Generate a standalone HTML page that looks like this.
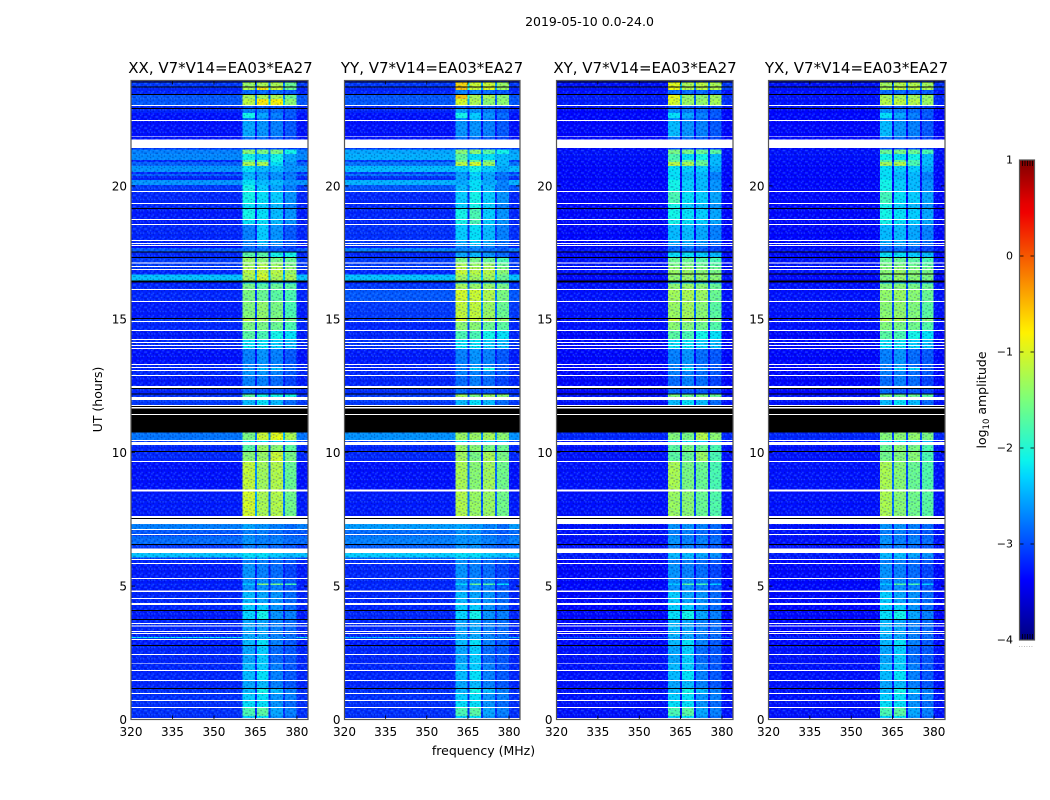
<!DOCTYPE html>
<html lang="en">
<head>
<meta charset="utf-8">
<title>2019-05-10 amplitude waterfall</title>
<style>
html,body{margin:0;padding:0;background:#fff;width:1050px;height:800px;overflow:hidden}
svg{display:block}
text{font-family:"DejaVu Sans","Liberation Sans",sans-serif;fill:#000}
</style>
</head>
<body>
<svg id="chart" xmlns="http://www.w3.org/2000/svg" width="1050" height="800" viewBox="0 0 1050 800">
<defs>
<linearGradient id="jet" x1="0" y1="1" x2="0" y2="0">
<stop offset="0" stop-color="#00007f"/><stop offset=".11" stop-color="#0000f1"/><stop offset=".125" stop-color="#0000ff"/><stop offset=".34" stop-color="#00d5ff"/><stop offset=".375" stop-color="#0cf4eb"/><stop offset=".5" stop-color="#7bff7b"/><stop offset=".64" stop-color="#fff100"/><stop offset=".66" stop-color="#ffe000"/><stop offset=".89" stop-color="#f00000"/><stop offset=".91" stop-color="#e40000"/><stop offset="1" stop-color="#7f0000"/>
</linearGradient>
<pattern id="speckle" patternUnits="userSpaceOnUse" width="11.2" height="11.2">
<g fill="#00006e" fill-opacity=".3">
<rect x="0" y="1.4" width="1.4" height="1.4"/><rect x="4.2" y="0" width="1.4" height="1.4"/><rect x="8.4" y="2.8" width="1.4" height="1.4"/><rect x="2.8" y="4.2" width="1.4" height="1.4"/><rect x="7" y="5.6" width="1.4" height="1.4"/><rect x="0" y="7" width="1.4" height="1.4"/><rect x="9.8" y="7" width="1.4" height="1.4"/><rect x="4.2" y="8.4" width="1.4" height="1.4"/><rect x="1.4" y="9.8" width="1.4" height="1.4"/><rect x="7" y="9.8" width="1.4" height="1.4"/>
</g>
<g fill="#4aa8ff" fill-opacity=".34">
<rect x="2.8" y="1.4" width="1.4" height="1.4"/><rect x="7" y="1.4" width="1.4" height="1.4"/><rect x="0" y="4.2" width="1.4" height="1.4"/><rect x="5.6" y="2.8" width="1.4" height="1.4"/><rect x="9.8" y="4.2" width="1.4" height="1.4"/><rect x="4.2" y="5.6" width="1.4" height="1.4"/><rect x="1.4" y="7" width="1.4" height="1.4"/><rect x="8.4" y="8.4" width="1.4" height="1.4"/><rect x="5.6" y="8.4" width="1.4" height="1.4"/><rect x="2.8" y="8.4" width="1.4" height="1.4"/>
</g>
</pattern>
</defs>

<text x="589.5" y="26" font-size="12.5" text-anchor="middle">2019-05-10 0.0-24.0</text>
<text x="220.5" y="73" font-size="15" text-anchor="middle">XX, V7*V14=EA03*EA27</text>
<text x="432" y="73" font-size="15" text-anchor="middle">YY, V7*V14=EA03*EA27</text>
<text x="645" y="73" font-size="15" text-anchor="middle">XY, V7*V14=EA03*EA27</text>
<text x="856.5" y="73" font-size="15" text-anchor="middle">YX, V7*V14=EA03*EA27</text>
<text x="483.5" y="755" font-size="12.5" text-anchor="middle">frequency (MHz)</text>
<text transform="translate(102,399.5) rotate(-90)" font-size="12.5" text-anchor="middle">UT (hours)</text>
<text transform="translate(986,400) rotate(-90)" font-size="12.5" text-anchor="middle">log<tspan font-size="8.5" dy="3">10</tspan><tspan dy="-3"> amplitude</tspan></text>
<g id="panels"></g>
<g id="colorbar"></g>
<text x="1026" y="647" font-size="6" text-anchor="middle" style="fill:#777;letter-spacing:.6px">......</text>
</svg>

<script>
const xTicks = [320, 335, 350, 365, 380];
const yTicks = [0, 5, 10, 15, 20];
const colorTicks = [-4, -3, -2, -1, 0, 1];
const freqEdges = [320, 360.4, 364.8, 365.5, 369.8, 370.5, 374.9, 375.6, 379.9, 384];
const columnBand = [0, 1, 0, 2, 0, 3, 0, 4, 0];

// time rows: start hour, D = data, W = flagged (white), K = zero amplitude (black)
const timeRows = [
[23.95,'D'],[23.91,'K'],[23.87,'D'],[23.72,'K'],[23.69,'D'],[23.59,'D'],[23.44,'K'],[23.41,'D'],[23.26,'D'],[23.03,'W'],
[22.99,'D'],[22.92,'K'],[22.88,'D'],[22.73,'D'],[22.54,'D'],[22.47,'W'],[22.43,'D'],[21.86,'W'],[21.83,'D'],[21.73,'W'],
[21.42,'D'],[21.37,'D'],[21.20,'D'],[20.97,'D'],[20.90,'D'],[20.75,'D'],[20.52,'D'],[20.45,'D'],[20.37,'D'],[20.22,'D'],
[20.04,'D'],[19.81,'W'],[19.77,'D'],[19.36,'W'],[19.32,'D'],[19.17,'K'],[19.13,'D'],[18.76,'W'],[18.72,'D'],[18.57,'W'],
[18.53,'D'],[17.97,'W'],[17.93,'D'],[17.86,'W'],[17.82,'D'],[17.78,'W'],[17.74,'D'],[17.67,'D'],[17.54,'K'],[17.50,'D'],
[17.33,'K'],[17.29,'D'],[17.13,'W'],[17.10,'D'],[17.00,'W'],[16.96,'D'],[16.89,'W'],[16.85,'D'],[16.72,'D'],[16.68,'D'],
[16.46,'K'],[16.38,'D'],[16.35,'D'],[16.14,'W'],[16.10,'D'],[15.69,'W'],[15.65,'D'],[15.05,'K'],[15.01,'D'],[14.94,'W'],
[14.90,'D'],[14.60,'W'],[14.56,'D'],[14.26,'W'],[14.22,'D'],[14.15,'W'],[14.11,'D'],[14.04,'W'],[14.00,'D'],[13.92,'W'],
[13.89,'D'],[13.32,'W'],[13.28,'D'],[13.21,'W'],[13.17,'D'],[13.10,'W'],[13.06,'D'],[12.91,'W'],[12.87,'D'],[12.50,'W'],
[12.42,'K'],[12.38,'D'],[12.21,'K'],[12.18,'D'],[12.09,'W'],[11.98,'D'],[11.79,'W'],[11.75,'K'],[11.72,'W'],[11.66,'K'],
[11.45,'W'],[11.42,'K'],[10.76,'D'],[10.48,'W'],[10.44,'D'],[10.40,'W'],[10.29,'D'],[10.06,'K'],[10.03,'D'],[9.69,'W'],
[9.65,'D'],[8.62,'W'],[8.54,'D'],[7.62,'W'],[7.55,'K'],[7.51,'W'],[7.33,'D'],[7.14,'W'],[7.11,'D'],[6.96,'W'],
[6.92,'D'],[6.88,'D'],[6.58,'K'],[6.54,'D'],[6.41,'W'],[6.24,'D'],[6.07,'D'],[6.02,'W'],[5.98,'D'],[5.87,'W'],
[5.83,'D'],[5.30,'W'],[5.27,'D'],[5.10,'D'],[5.04,'D'],[4.84,'W'],[4.78,'D'],[4.55,'W'],[4.52,'D'],[4.37,'W'],
[4.30,'D'],[4.10,'K'],[4.07,'D'],[3.76,'K'],[3.73,'D'],[3.61,'W'],[3.58,'D'],[3.52,'W'],[3.48,'D'],[3.31,'W'],
[3.28,'D'],[3.24,'W'],[3.20,'D'],[3.09,'D'],[3.06,'D'],[3.02,'W'],[2.98,'D'],[2.79,'K'],[2.75,'D'],[2.45,'W'],
[2.42,'D'],[2.12,'W'],[2.09,'D'],[1.86,'W'],[1.82,'D'],[1.48,'W'],[1.45,'D'],[1.18,'K'],[1.15,'D'],[1.00,'W'],
[0.96,'D'],[0.73,'W'],[0.69,'D'],[0.47,'W'],[0.43,'D'],[0.13,'D'],[0.06,'W'],[0.02,'D']
];
const K = [-9, -9, -9, -9, -9];

// log10 amplitude per data row: [background, band1, band2, band3, band4]
const xxValues = [
[-3.2,-2.9,-2.9,-2.9,-2.9],[-3,-1.3,-1.2,-1.2,-1.6],[-3.1,-1.2,-.7,-1,-1.6],[-3.1,-2.6,-2.6,-2.6,-2.7],[-2.95,-1.2,-1.2,-1.2,-1.6],
[-2.95,-1.1,-.7,-.75,-1.4],[-3.1,-2.7,-2.7,-2.7,-2.8],[-3.1,-2.5,-2.5,-2.6,-2.7],[-3.2,-1.9,-2.3,-2.5,-2.7],[-3.2,-2.5,-2.5,-2.6,-2.8],
[-3.2,-2.3,-2.4,-2.5,-2.7],[-3.2,-2.6,-2.6,-2.7,-2.8],[-3,-2.8,-2.8,-2.8,-2.9],[-2.75,-1.4,-1.5,-1.5,-1.9],[-2.7,-1.9,-2.1,-1.9,-2.3],
[-3.1,-1.7,-1.8,-1.9,-2.3],[-2.9,-1.2,-1.2,-2,-2.4],[-2.65,-2,-2.2,-2.2,-2.4],[-3.1,-2.3,-2.4,-2.4,-2.6],[-2.9,-2.2,-2.3,-2.4,-2.5],
[-3.1,-2.2,-2.3,-2.4,-2.5],[-2.65,-2,-2.2,-2.2,-2.4],[-3,-1.9,-2.1,-2.3,-2.5],[-3.1,-1.9,-2,-2.1,-2.4],[-3.1,-2,-2.1,-2.2,-2.5],
[-3.15,-1.9,-2,-2.2,-2.4],[-3.15,-2,-2,-2.2,-2.4],[-3.1,-2.5,-2.1,-2.4,-2.7],[-3.1,-2.5,-2.2,-2.4,-2.7],[-3.1,-2.5,-2.2,-2.4,-2.7],
[-3.2,-2.6,-2.5,-2.6,-2.8],[-2.95,-2.6,-2.6,-2.7,-2.8],[-3.1,-1.7,-1.7,-1.9,-1.9],[-3,-1.3,-1.4,-1.5,-1.6],[-3,-1.3,-1.2,-1.3,-1.5],
[-3,-1.2,-1.1,-1.2,-1.4],[-3.1,-1.1,-1.05,-1.1,-1.3],[-3.1,-1.1,-1.05,-1.1,-1.3],[-2.4,-1.2,-.95,-1.2,-1.2],[-3.2,-2.2,-2.2,-2.2,-2.3],
[-3.1,-1.5,-1.7,-1.6,-1.7],[-3.1,-1.5,-1.6,-1.7,-1.8],[-3.15,-1.45,-1.35,-1.5,-1.8],[-3,-1.1,-1.2,-1.3,-1.5],[-3.1,-1.5,-1.5,-1.6,-1.8],
[-3.15,-1.7,-1.8,-1.9,-2],[-3.1,-2,-2,-2.1,-2.2],[-3.1,-2,-2,-2.1,-2.2],[-3.1,-2,-2,-2.1,-2.2],[-3.2,-2.5,-2.4,-2.5,-2.7],
[-3.1,-2.5,-2.4,-2.5,-2.7],[-3.1,-2.4,-2.2,-2.2,-2.6],[-3.1,-2.4,-2.4,-2.5,-2.7],[-3.15,-2.5,-2.5,-2.6,-2.8],[-3.1,-2.6,-2.7,-2.7,-2.8],
[-3.05,-1.7,-1.9,-1.9,-1.9],[-3,-2.2,-2,-2.2,-2.6],[-2.8,-1.5,-1,-.85,-1.2],[-3,-2,-2,-2.1,-2.2],[-3.1,-1.7,-1.3,-1.4,-1.7],
[-3.1,-1.4,-1.3,-1,-1.5],[-3.2,-1.05,-1.25,-1.15,-1.6],[-3.15,-.95,-1.2,-1.15,-1.55],[-2.75,-2.3,-2.4,-2.5,-2.6],[-2.95,-2.5,-2.5,-2.6,-2.7],
[-3,-2.5,-2.5,-2.6,-2.7],[-2.85,-2.4,-2.5,-2.5,-2.6],[-3,-2.5,-2.5,-2.6,-2.7],[-2.4,-2,-2,-2.1,-2.2],[-3,-2.3,-2.3,-2.5,-2.6],
[-3.1,-2.5,-2.5,-2.6,-2.7],[-3.15,-2.4,-2.5,-2.6,-2.8],[-3.15,-2.4,-2.4,-2.5,-2.7],[-3.1,-2.1,-1.4,-1.5,-1.8],[-3.15,-2.4,-2.4,-2.5,-2.7],
[-3.1,-2.2,-2.3,-2.4,-2.6],[-3.1,-2.2,-2.3,-2.4,-2.6],[-3.1,-2.1,-2.1,-2.4,-2.6],[-3.15,-2.05,-1.9,-2.4,-2.5],[-3.1,-2.3,-2.3,-2.5,-2.6],
[-3.1,-2.3,-2.3,-2.5,-2.6],[-3.1,-2.3,-2.3,-2.5,-2.6],[-3.1,-2.3,-2.3,-2.5,-2.6],[-3.1,-2.3,-2.3,-2.5,-2.6],[-2.2,-2.2,-2.2,-2.4,-2.5],
[-3,-2.3,-2.3,-2.5,-2.6],[-3.15,-2.2,-2,-2.5,-2.7],[-3.1,-2.3,-2.1,-2.6,-2.7],[-3.1,-2.3,-2.1,-2.6,-2.7],[-3.1,-2.2,-2.1,-2.5,-2.7],
[-3.1,-2.2,-2,-2.5,-2.7],[-3.1,-2.3,-2.2,-2.5,-2.7],[-3.05,-2.2,-1.9,-2.2,-2.5],[-3.05,-2.1,-2,-2.4,-2.5],[-3.05,-2,-2,-2.4,-2.6],
[-3.05,-1.8,-1.7,-2.3,-2.5],[-3.05,-2.1,-2,-2.4,-2.6],[-3,-2.4,-2.4,-2.6,-2.7]
];
const yyValues = [
[-3.2,-2.9,-2.9,-2.9,-2.9],[-3,-.6,-1,-1,-1.3],[-3.1,-.5,-1,-.9,-1.3],[-3.1,-2.5,-2.5,-2.6,-2.7],[-2.95,-.5,-1.2,-1.2,-1.4],
[-2.95,-.95,-1.2,-1.4,-1.4],[-3.1,-2.7,-2.7,-2.7,-2.8],[-3.1,-2.3,-2.4,-2.5,-2.7],[-3.2,-1.9,-2.1,-2.4,-2.6],[-3.2,-2.4,-2.2,-2.5,-2.7],
[-3.2,-2.4,-2.4,-2.5,-2.7],[-3.2,-2.6,-2.6,-2.7,-2.8],[-3,-2.8,-2.8,-2.8,-2.9],[-2.55,-1.4,-1.4,-1.7,-1.9],[-2.5,-1.7,-2,-2,-2.2],
[-3,-1.5,-1.6,-1.6,-2.2],[-2.8,-1.1,-.95,-1.3,-2.2],[-2.45,-2.1,-1.9,-2.1,-2.3],[-3,-2.4,-2.1,-2.3,-2.6],[-2.8,-2.3,-2,-2.3,-2.5],
[-3.05,-2.3,-2.1,-2.3,-2.6],[-2.5,-2.3,-2,-2.3,-2.5],[-2.95,-2.2,-2,-2.2,-2.5],[-3.1,-2.1,-1.9,-2.1,-2.4],[-3.1,-2.1,-1.9,-2.1,-2.5],
[-3.1,-1.9,-1.8,-2.1,-2.4],[-3.1,-1.9,-1.8,-2.1,-2.4],[-3.05,-2.1,-2,-2.2,-2.5],[-3,-2.3,-2.1,-2.3,-2.6],[-3,-2.3,-2.1,-2.3,-2.6],
[-3.1,-2.5,-2.4,-2.5,-2.7],[-2.75,-2.5,-2.5,-2.6,-2.7],[-3.1,-2.3,-2.2,-2.4,-2.6],[-3,-1.5,-1.5,-1.6,-1.8],[-3,-1.2,-1.3,-1.3,-1.6],
[-3,-1.1,-1.2,-1.2,-1.5],[-3.1,-1,-1.1,-1.1,-1.4],[-3.1,-1,-1.1,-1.1,-1.4],[-2.4,-1.25,-1.25,-1.25,-1.6],[-3.2,-2.2,-2.2,-2.2,-2.3],
[-3,-1.2,-1.3,-1.3,-1.5],[-2.95,-.95,-1,-1.15,-1.5],[-3,-1.05,-1.05,-1.3,-1.6],[-3,-.85,-1,-1.1,-1.3],[-3.1,-1.4,-1.4,-1.6,-1.7],
[-3.1,-1.8,-1.8,-1.9,-2],[-3.05,-2,-2,-2.1,-2.2],[-3.05,-2,-2,-2.1,-2.2],[-3.05,-2,-2,-2.1,-2.2],[-3.15,-2.5,-2.4,-2.5,-2.7],
[-3.1,-2.5,-2.4,-2.5,-2.7],[-3.1,-2.5,-2.1,-1.9,-2.6],[-3.1,-2.5,-2.5,-2.5,-2.7],[-3.1,-2.6,-2.5,-2.6,-2.8],[-3.05,-2.6,-2.7,-2.7,-2.8],
[-3,-1.25,-1.5,-1.3,-1.4],[-3,-2.2,-2,-2.2,-2.6],[-2.65,-1.3,-1.3,-1.25,-1.4],[-3,-2,-2,-2.1,-2.2],[-3.1,-1.3,-1.4,-1.5,-1.6],
[-3.1,-1.25,-1.5,-1.2,-1.5],[-3.2,-1.2,-1.4,-1.25,-1.55],[-3.15,-1.15,-1.3,-1.3,-1.55],[-2.6,-2.3,-2.4,-2.5,-2.6],[-2.85,-2.4,-2.4,-2.6,-2.7],
[-2.9,-2.4,-2.4,-2.6,-2.7],[-2.75,-2.4,-2.4,-2.5,-2.6],[-2.9,-2.4,-2.4,-2.6,-2.7],[-2.35,-2,-2,-2.1,-2.2],[-2.9,-2.3,-2.3,-2.5,-2.6],
[-3.05,-2.4,-2.5,-2.6,-2.7],[-3.1,-2.4,-2.5,-2.6,-2.8],[-3.1,-2.4,-2.4,-2.5,-2.7],[-3.1,-2,-1.6,-1.7,-2],[-3.1,-2.4,-2.4,-2.5,-2.7],
[-3.1,-2.2,-2.3,-2.4,-2.6],[-3.1,-2.2,-2.3,-2.4,-2.6],[-3.1,-2.1,-2.1,-2.4,-2.6],[-3.1,-2.05,-1.9,-2.4,-2.5],[-3.1,-2.3,-2.3,-2.5,-2.6],
[-3.1,-2.3,-2.3,-2.5,-2.6],[-3.1,-2.3,-2.3,-2.5,-2.6],[-3.1,-2.3,-2.3,-2.5,-2.6],[-3.1,-2.3,-2.3,-2.5,-2.6],[-2.4,-2.2,-2.2,-2.4,-2.5],
[-3,-2.3,-2.3,-2.5,-2.6],[-3.15,-2.2,-2,-2.5,-2.7],[-3.1,-2.3,-2.1,-2.6,-2.7],[-3.1,-2.3,-2.1,-2.6,-2.7],[-3.1,-2.2,-2.1,-2.5,-2.7],
[-3.1,-2.2,-2,-2.5,-2.7],[-3.1,-2.3,-2.2,-2.5,-2.7],[-3.05,-2.2,-1.9,-2.2,-2.5],[-3.05,-2.1,-2,-2.4,-2.5],[-3.05,-2,-2,-2.4,-2.6],
[-3.05,-1.8,-1.7,-2.3,-2.5],[-3.05,-2.1,-2,-2.4,-2.6],[-3,-2.4,-2.4,-2.6,-2.7]
];
const xyValues = [
[-3.25,-2.9,-2.9,-2.9,-2.9],[-3.2,-.85,-1.2,-1.1,-1.2],[-3.2,-.8,-1.15,-1.1,-1.15],[-3.2,-2.6,-2.6,-2.6,-2.7],[-3.15,-.8,-1.3,-1.4,-1.25],
[-3.15,-.95,-1.3,-1.35,-1.25],[-3.2,-2.7,-2.7,-2.7,-2.8],[-3.25,-2.4,-2.5,-2.6,-2.7],[-3.25,-2,-2.3,-2.5,-2.7],[-3.25,-2.4,-2.5,-2.6,-2.8],
[-3.25,-2.2,-2.4,-2.5,-2.7],[-3.25,-2.6,-2.6,-2.7,-2.8],[-3.25,-2.8,-2.8,-2.8,-2.9],[-3.2,-1.5,-1.5,-1.6,-1.7],[-3.2,-1.8,-2,-1.9,-2.2],
[-3.25,-1.6,-1.6,-1.7,-2.2],[-3.25,-1.1,-1.2,-1.6,-2.2],[-3.25,-2,-2.1,-2.1,-2.3],[-3.25,-2,-2.2,-2.2,-2.5],[-3.25,-2,-2.2,-2.2,-2.5],
[-3.25,-2,-2.2,-2.2,-2.5],[-3.25,-1.9,-2.1,-2.2,-2.4],[-3.25,-1.9,-2.1,-2.2,-2.4],[-3.25,-1.8,-2,-2.1,-2.3],[-3.25,-1.9,-2.1,-2.2,-2.4],
[-3.25,-1.9,-2,-2.1,-2.3],[-3.25,-1.9,-2,-2.1,-2.3],[-3.25,-2.2,-2.2,-2.3,-2.5],[-3.25,-2.3,-2.3,-2.4,-2.6],[-3.25,-2.3,-2.3,-2.4,-2.6],
[-3.25,-2.6,-2.5,-2.6,-2.8],[-3.2,-2.6,-2.6,-2.7,-2.8],[-3.25,-2,-2,-2.1,-2.2],[-3.2,-1.6,-1.6,-1.7,-1.8],[-3.2,-1.5,-1.5,-1.6,-1.7],
[-3.2,-1.4,-1.4,-1.5,-1.6],[-3.2,-1.3,-1.3,-1.4,-1.5],K,[-3.25,-1.35,-1.3,-1.35,-1.4],[-3.25,-2.2,-2.2,-2.2,-2.3],
[-3.2,-1.35,-1.3,-1.4,-1.6],[-3.2,-1.25,-1.2,-1.3,-1.6],[-3.2,-1.3,-1.25,-1.4,-1.7],[-3.2,-1,-1.1,-1.25,-1.4],[-3.2,-1.4,-1.45,-1.55,-1.75],
[-3.25,-1.7,-1.8,-1.9,-2],[-3.25,-2,-2,-2.1,-2.2],[-3.25,-2,-2,-2.1,-2.2],[-3.25,-2,-2,-2.1,-2.2],[-3.25,-2.5,-2.4,-2.6,-2.7],
[-3.25,-2.5,-2.4,-2.6,-2.7],[-3.25,-2.5,-2,-2.4,-2.7],[-3.25,-2.5,-2.5,-2.6,-2.7],[-3.25,-2.6,-2.5,-2.6,-2.8],[-3.25,-2.6,-2.7,-2.7,-2.8],
[-3.2,-1.45,-1.6,-1.5,-1.6],[-3.2,-2.2,-2,-2.2,-2.6],[-3.1,-1.45,-1.5,-1.15,-1.4],[-3.2,-2,-2,-2.1,-2.2],[-3.2,-1.7,-1.5,-1.6,-1.8],
[-3.2,-1.7,-1.6,-1.3,-1.8],[-3.2,-1.2,-1.5,-1.6,-1.8],[-3.2,-1.3,-1.4,-1.6,-1.75],[-3.2,-2.4,-2.4,-2.5,-2.6],[-3.2,-2.5,-2.5,-2.6,-2.7],
[-3.2,-2.5,-2.5,-2.6,-2.7],[-3.2,-2.4,-2.5,-2.5,-2.6],[-3.2,-2.5,-2.5,-2.6,-2.7],[-3.15,-2.2,-2.2,-2.3,-2.4],[-3.2,-2.3,-2.3,-2.5,-2.6],
[-3.25,-2.5,-2.5,-2.6,-2.7],[-3.25,-2.4,-2.5,-2.6,-2.8],[-3.25,-2.4,-2.4,-2.5,-2.7],[-3.25,-2.1,-1.7,-1.8,-2.1],[-3.25,-2.4,-2.4,-2.5,-2.7],
[-3.25,-2.1,-2.3,-2.4,-2.6],[-3.25,-2.1,-2.3,-2.4,-2.6],[-3.25,-2.1,-2.1,-2.4,-2.6],[-3.25,-2,-1.9,-2.3,-2.5],[-3.25,-2.2,-2.3,-2.5,-2.6],
[-3.25,-2.2,-2.3,-2.5,-2.6],[-3.25,-2.2,-2.3,-2.5,-2.6],[-3.25,-2.2,-2.3,-2.5,-2.6],[-3.25,-2.2,-2.3,-2.5,-2.6],[-2.9,-2.3,-2.3,-2.5,-2.6],
[-3.2,-2.3,-2.3,-2.5,-2.6],[-3.25,-2.2,-2,-2.5,-2.7],[-3.2,-2.3,-2.1,-2.6,-2.7],[-3.2,-2.3,-2.1,-2.6,-2.7],[-3.2,-2.2,-2.1,-2.5,-2.7],
[-3.2,-2.2,-2,-2.5,-2.7],[-3.2,-2.3,-2.2,-2.5,-2.7],[-3.2,-2.2,-1.9,-2.2,-2.5],[-3.2,-2.1,-2,-2.4,-2.5],[-3.2,-2,-2,-2.4,-2.6],
[-3.2,-1.8,-1.7,-2.3,-2.5],[-3.2,-2.1,-2,-2.4,-2.6],[-3.2,-2.4,-2.4,-2.6,-2.7]
];
const yxValues = [
[-3.25,-2.9,-2.9,-2.9,-2.9],[-3.2,-1.25,-1.15,-1.15,-1.25],[-3.2,-1.2,-1.05,-1.1,-1.2],[-3.2,-2.6,-2.6,-2.6,-2.7],[-3.2,-1.2,-1.2,-1.25,-1.3],
[-3.2,-1.15,-1.1,-1.15,-1.3],[-3.2,-2.7,-2.7,-2.7,-2.8],[-3.25,-2.4,-2.5,-2.6,-2.7],[-3.25,-2,-2.3,-2.5,-2.7],[-3.25,-2.4,-2.5,-2.6,-2.8],
[-3.25,-2.2,-2.4,-2.5,-2.7],[-3.25,-2.6,-2.6,-2.7,-2.8],[-3.25,-2.8,-2.8,-2.8,-2.9],[-3.2,-1.6,-1.5,-1.6,-1.8],[-3.2,-1.9,-2,-1.9,-2.2],
[-3.25,-1.7,-1.6,-1.8,-2.2],[-3.25,-1.25,-1.15,-1.8,-2.2],[-3.25,-2,-2.1,-2.1,-2.3],[-3.25,-2,-2.2,-2.2,-2.5],[-3.25,-2,-2.2,-2.2,-2.5],
[-3.25,-2,-2.2,-2.2,-2.5],[-3.25,-1.9,-2.1,-2.2,-2.4],[-3.25,-1.9,-2.1,-2.2,-2.4],[-3.25,-1.85,-2,-2.1,-2.3],[-3.25,-1.9,-2.1,-2.2,-2.4],
[-3.25,-1.9,-2,-2.1,-2.3],[-3.25,-1.9,-2,-2.1,-2.3],[-3.25,-2.2,-2.2,-2.3,-2.5],[-3.25,-2.3,-2.3,-2.4,-2.6],[-3.25,-2.3,-2.3,-2.4,-2.6],
[-3.25,-2.6,-2.5,-2.6,-2.8],[-3.2,-2.6,-2.6,-2.7,-2.8],[-3.25,-2,-2,-2.1,-2.2],[-3.2,-1.6,-1.6,-1.7,-1.8],[-3.2,-1.5,-1.5,-1.6,-1.7],
[-3.2,-1.45,-1.4,-1.5,-1.6],[-3.2,-1.4,-1.3,-1.4,-1.5],K,[-3.25,-1.45,-1.3,-1.4,-1.5],[-3.25,-2.2,-2.2,-2.2,-2.3],
[-3.2,-1.45,-1.4,-1.5,-1.6],[-3.2,-1.35,-1.3,-1.4,-1.6],[-3.2,-1.4,-1.35,-1.45,-1.7],[-3.2,-1.1,-1.15,-1.3,-1.4],[-3.2,-1.45,-1.5,-1.55,-1.75],
[-3.25,-1.7,-1.8,-1.9,-2],[-3.25,-2,-2,-2.1,-2.2],[-3.25,-2,-2,-2.1,-2.2],[-3.25,-2,-2,-2.1,-2.2],[-3.25,-2.5,-2.4,-2.6,-2.7],
[-3.25,-2.5,-2.4,-2.6,-2.7],[-3.25,-2.5,-2.1,-2.1,-2.7],[-3.25,-2.5,-2.5,-2.6,-2.7],[-3.25,-2.6,-2.5,-2.6,-2.8],[-3.25,-2.6,-2.7,-2.7,-2.8],
[-3.2,-1.5,-1.6,-1.6,-1.7],[-3.2,-2.2,-2,-2.2,-2.6],[-3.1,-1.45,-1.4,-1.35,-1.5],[-3.2,-2,-2,-2.1,-2.2],[-3.2,-1.6,-1.4,-1.5,-1.8],
[-3.2,-1.55,-1.45,-1.4,-1.8],[-3.2,-1.2,-1.4,-1.6,-1.75],[-3.2,-1.2,-1.4,-1.55,-1.7],[-3.2,-2.4,-2.4,-2.5,-2.6],[-3.2,-2.5,-2.5,-2.6,-2.7],
[-3.2,-2.5,-2.5,-2.6,-2.7],[-3.2,-2.4,-2.5,-2.5,-2.6],[-3.2,-2.5,-2.5,-2.6,-2.7],[-3.15,-2.2,-2.2,-2.3,-2.4],[-3.2,-2.3,-2.3,-2.5,-2.6],
[-3.25,-2.5,-2.5,-2.6,-2.7],[-3.25,-2.4,-2.5,-2.6,-2.8],[-3.25,-2.4,-2.4,-2.5,-2.7],[-3.25,-2.1,-1.7,-1.8,-2.1],[-3.25,-2.4,-2.4,-2.5,-2.7],
[-3.25,-2.1,-2.3,-2.4,-2.6],[-3.25,-2.1,-2.3,-2.4,-2.6],[-3.25,-2.1,-2.1,-2.4,-2.6],[-3.25,-2,-1.9,-2.3,-2.5],[-3.25,-2.2,-2.3,-2.5,-2.6],
[-3.25,-2.2,-2.3,-2.5,-2.6],[-3.25,-2.2,-2.3,-2.5,-2.6],[-3.25,-2.2,-2.3,-2.5,-2.6],[-3.25,-2.2,-2.3,-2.5,-2.6],[-3,-2.3,-2.3,-2.5,-2.6],
[-3.2,-2.3,-2.3,-2.5,-2.6],[-3.25,-2.2,-2,-2.5,-2.7],[-3.2,-2.3,-2.1,-2.6,-2.7],[-3.2,-2.3,-2.1,-2.6,-2.7],[-3.2,-2.2,-2.1,-2.5,-2.7],
[-3.2,-2.2,-2,-2.5,-2.7],[-3.2,-2.3,-2.2,-2.5,-2.7],[-3.2,-2.2,-1.9,-2.2,-2.5],[-3.2,-2.1,-2,-2.4,-2.5],[-3.2,-2,-2,-2.4,-2.6],
[-3.2,-1.8,-1.7,-2.3,-2.5],[-3.2,-2.1,-2,-2.4,-2.6],[-3.2,-2.4,-2.4,-2.6,-2.7]
];

const NS = 'http://www.w3.org/2000/svg';
const TOP = 80.5, BOTTOM = 719.5, XMIN = 320, XMAX = 384, HOURS = 23.95;
const panelLayout = [
  { key: 'xx', left: 131, width: 177, values: xxValues },
  { key: 'yy', left: 344.5, width: 175.5, values: yyValues },
  { key: 'xy', left: 556.5, width: 176.5, values: xyValues },
  { key: 'yx', left: 768.5, width: 176.5, values: yxValues }
];

function yScale(h) { return BOTTOM - (h / HOURS) * (BOTTOM - TOP); }
function colorScale(v) { return 640 - (v + 4) / 5 * 480; }
function seg(t, pts) {
  for (let i = 1; i < pts.length; i++) {
    if (t <= pts[i][0]) {
      const a = pts[i - 1], b = pts[i];
      return a[1] + (b[1] - a[1]) * (t - a[0]) / (b[0] - a[0]);
    }
  }
  return pts[pts.length - 1][1];
}
function jet(v) {
  const t = Math.max(0, Math.min(1, (v + 4) / 5));
  const r = seg(t, [[0, 0], [.35, 0], [.66, 1], [.89, 1], [1, .5]]);
  const g = seg(t, [[0, 0], [.125, 0], [.375, 1], [.64, 1], [.91, 0], [1, 0]]);
  const b = seg(t, [[0, .5], [.11, 1], [.34, 1], [.65, 0], [1, 0]]);
  return 'rgb(' + Math.round(r * 255) + ',' + Math.round(g * 255) + ',' + Math.round(b * 255) + ')';
}
// mean tone of the speckled noise reads darker than the row's peak tone
function bgTone(v) { return v <= -3 ? v - .1 : v; }
function bandTone(v) { return v < -1.85 ? v - .25 : v; }
function cellValue(vals, c) {
  const band = columnBand[c];
  if (band > 0) return bandTone(vals[band]);
  const bg = bgTone(vals[0]);
  if (c === 0) return bg;
  const neighbour = vals[columnBand[c - 1]];
  if (c === columnBand.length - 1) return Math.max(bg, neighbour - 1.9);
  return Math.max(bg, neighbour - 1.6);
}
function make(tag, attrs, parent) {
  const e = document.createElementNS(NS, tag);
  for (const k in attrs) e.setAttribute(k, attrs[k]);
  parent.appendChild(e);
  return e;
}

const panelsRoot = document.getElementById('panels');
panelLayout.forEach(function (p) {
  const g = make('g', {}, panelsRoot);
  
  
  const xScale = function (f) { return p.left + (f - XMIN) / (XMAX - XMIN) * p.width; };

  const flagged = [];
  let dataIndex = 0;
  timeRows.forEach(function (row, i) {
    const y0 = yScale(row[0]);
    const y1 = i + 1 < timeRows.length ? yScale(timeRows[i + 1][0]) : BOTTOM;
    if (row[1] !== 'D') { flagged.push([y0, y1, row[1]]); return; }
    const vals = p.values[dataIndex] || K;
    dataIndex++;
    if (vals[0] <= -9) { flagged.push([y0, y1, 'K']); return; }
    columnBand.forEach(function (band, c) {
      const x0 = xScale(freqEdges[c]);
      const x1 = xScale(freqEdges[c + 1]);
      const cell = make('rect', { x: x0, y: y0, width: x1 - x0, height: y1 - y0, fill: jet(cellValue(vals, c)), 'shape-rendering': 'crispEdges' }, g);
      
      
    });
  });

  const tex = make('rect', { x: p.left, y: TOP, width: p.width, height: BOTTOM - TOP, fill: 'url(#speckle)' }, g);
  
  

  flagged.forEach(function (f) {
    const band = make('rect', { x: p.left, y: f[0], width: p.width, height: f[1] - f[0], fill: f[2] === 'W' ? '#fff' : '#000', 'shape-rendering': 'crispEdges' }, g);
    
    
  });

  xTicks.forEach(function (v) {
    const x = xScale(v);
    const t1 = make('line', { x1: x, x2: x, y1: BOTTOM, y2: BOTTOM - 4, stroke: '#000', 'stroke-width': .8 }, g);
    
    
    const t2 = make('line', { x1: x, x2: x, y1: TOP, y2: TOP + 4, stroke: '#000', 'stroke-width': .8 }, g);
    
    
    const lab = make('text', { x: x, y: 736, 'font-size': 12, 'text-anchor': 'middle' }, g);
    lab.textContent = String(v);
    
    
  });
  yTicks.forEach(function (v) {
    const y = yScale(v);
    const t1 = make('line', { x1: p.left, x2: p.left + 4, y1: y, y2: y, stroke: '#000', 'stroke-width': .8 }, g);
    
    
    const t2 = make('line', { x1: p.left + p.width, x2: p.left + p.width - 4, y1: y, y2: y, stroke: '#000', 'stroke-width': .8 }, g);
    
    
    const lab = make('text', { x: p.left - 4, y: y + 4.4, 'font-size': 12, 'text-anchor': 'end' }, g);
    lab.textContent = String(v);
    
    
  });

  const frame = make('rect', { x: p.left, y: TOP, width: p.width, height: BOTTOM - TOP, fill: 'none', stroke: '#555', 'stroke-width': 1.2 }, g);
  
  
});

const cb = document.getElementById('colorbar');
const cbBar = make('rect', { x: 1019.5, y: 160, width: 15, height: 480, fill: 'url(#jet)' }, cb);


colorTicks.forEach(function (v) {
  const y = colorScale(v);
  const t1 = make('line', { x1: 1019.5, x2: 1023.5, y1: y, y2: y, stroke: '#000', 'stroke-width': .8 }, cb);
  
  
  const t2 = make('line', { x1: 1034.5, x2: 1030.5, y1: y, y2: y, stroke: '#000', 'stroke-width': .8 }, cb);
  
  
  const lab = make('text', { x: 1013, y: y + 3.6, 'font-size': 11, 'text-anchor': 'end' }, cb);
  lab.textContent = (v < 0 ? '\u2212' + Math.abs(v) : String(v));
  
  
});
[1022.5, 1025, 1027.5, 1030, 1032.5].forEach(function (x) {
  const a = make('line', { x1: x, x2: x, y1: 160, y2: 166, stroke: '#000', 'stroke-width': .8 }, cb);
  
  
  const b = make('line', { x1: x, x2: x, y1: 640, y2: 634, stroke: '#000', 'stroke-width': .8 }, cb);
  
  
});
const cbFrame = make('rect', { x: 1019.5, y: 160, width: 15, height: 480, fill: 'none', stroke: '#555', 'stroke-width': 1.2 }, cb);


</script>
</body>
</html>
